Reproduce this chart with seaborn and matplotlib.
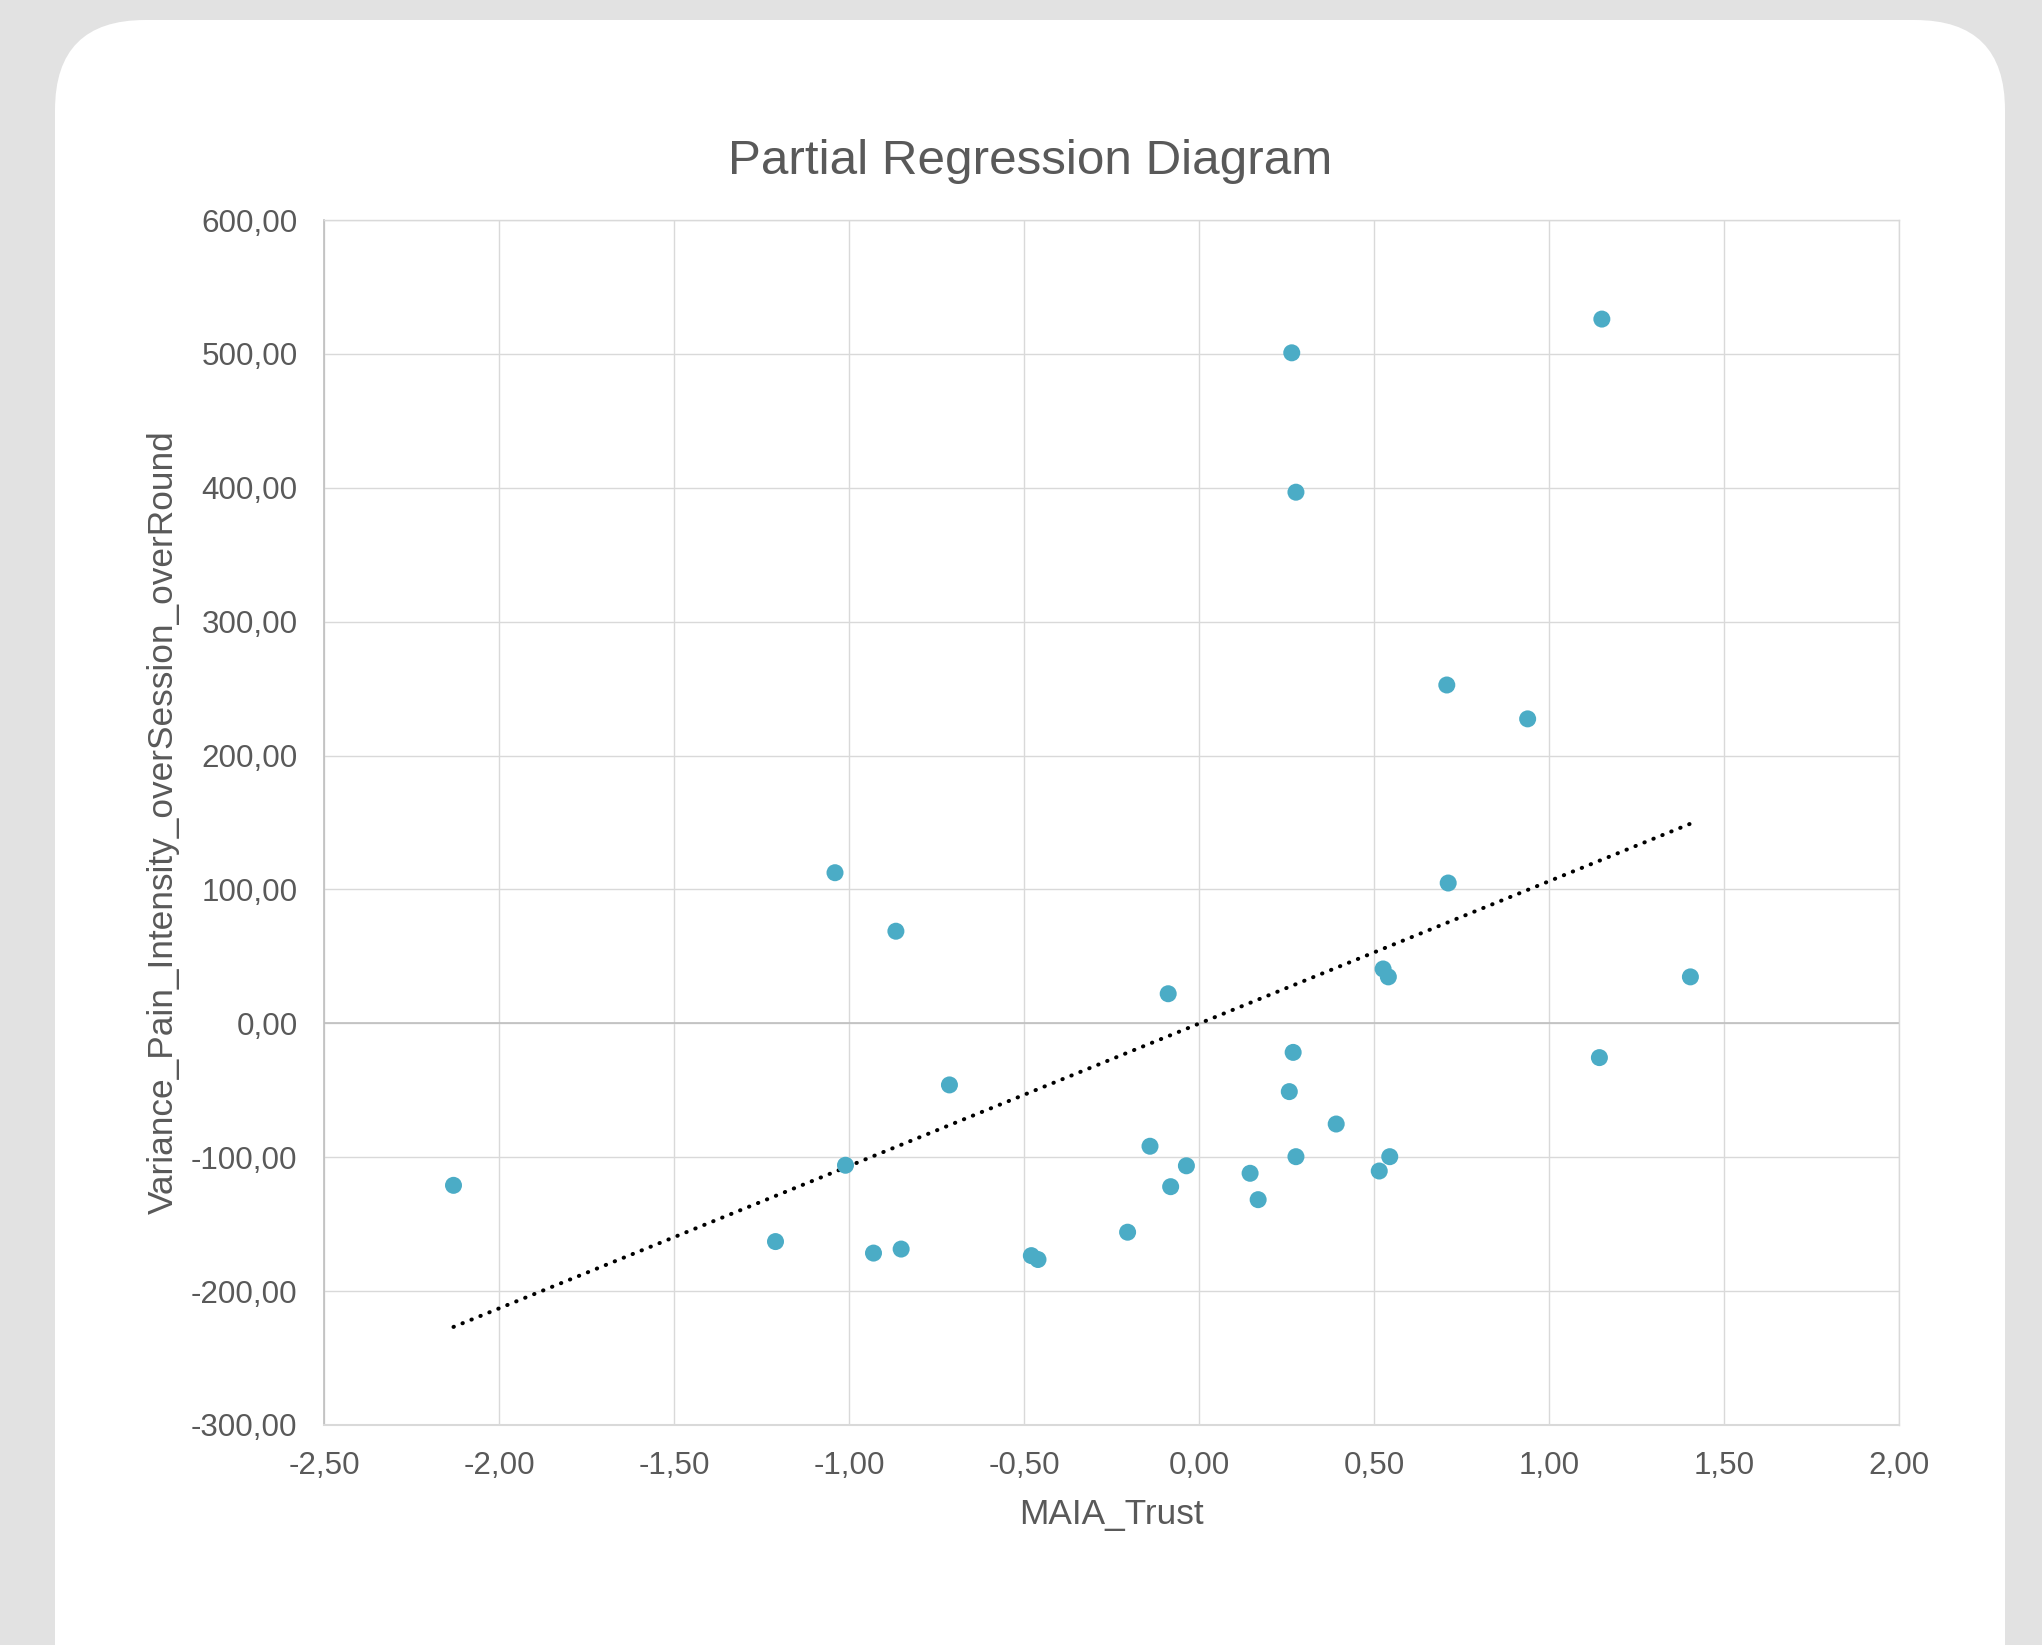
import numpy as np
import pandas as pd
import matplotlib
matplotlib.use("Agg")
import matplotlib.pyplot as plt
from matplotlib.patches import FancyBboxPatch
import seaborn as sns

# ---- data ----
maia_trust = [-2.13, -1.21, -1.04, -1.01, -0.93, -0.866, -0.851, -0.713, -0.479, -0.46,
              -0.204, -0.14, -0.088, -0.081, -0.036, 0.146, 0.169, 0.258, 0.265, 0.269,
              0.277, 0.277, 0.392, 0.515, 0.526, 0.541, 0.545, 0.708, 0.712, 0.939,
              1.144, 1.151, 1.404]
variance_pain = [-121, -163, 112.5, -106, -171.6, 68.8, -168.6, -46, -173.5, -176.4,
                 -156, -91.8, 22.1, -122, -106.4, -112, -131.7, -51, 500.8, -21.7,
                 396.7, -99.6, -75.2, -110.3, 40.6, 34.7, -99.6, 252.7, 104.8, 227.4,
                 -25.6, 526, 34.7]
x_ticks = [-2.5, -2.0, -1.5, -1.0, -0.5, 0.0, 0.5, 1.0, 1.5, 2.0]
y_ticks = [-300, -200, -100, 0, 100, 200, 300, 400, 500, 600]

title = "Partial Regression Diagram"
x_label = "MAIA_Trust"
y_label = "Variance_Pain_Intensity_overSession_overRound"

df = pd.DataFrame({x_label: maia_trust, y_label: variance_pain})

sns.set_theme(style="white")
plt.rcParams['font.family'] = ['Liberation Sans', 'DejaVu Sans']

W, H = 2042, 1645
fig = plt.figure(figsize=(W / 100, H / 100), dpi=100)
fig.patch.set_facecolor("#e2e2e2")

# background card
bg = fig.add_axes([0, 0, 1, 1], zorder=0)
bg.set_xlim(0, W)
bg.set_ylim(H, 0)
bg.axis("off")
bg.add_patch(FancyBboxPatch((55, 20), 2005 - 55, 1800, boxstyle="round,pad=0,rounding_size=90",
                            facecolor="white", edgecolor="none"))

ax = fig.add_axes([324 / W, 1 - 1425 / H, (1899 - 324) / W, (1425 - 220) / H], zorder=1)
ax.set_facecolor("none")

text_color = "#595959"
grid_color = "#d9d9d9"

sns.regplot(data=df, x=x_label, y=y_label, scatter=False, ci=None, truncate=True, ax=ax,
            line_kws=dict(color="black", lw=2.9, linestyle=(0, (0.1, 2.3)),
                          dash_capstyle="round", zorder=3))
sns.scatterplot(data=df, x=x_label, y=y_label, ax=ax, color="#4bacc6", s=150,
                edgecolor="none", linewidth=0, zorder=4)

ax.set_xlim(-2.5, 2.0)
ax.set_ylim(-300, 600)
ax.set_xticks(x_ticks)
ax.set_yticks(y_ticks)
ax.set_xticklabels([f"{v:.2f}".replace(".", ",") for v in x_ticks])
ax.set_yticklabels([f"{v:.2f}".replace(".", ",") for v in y_ticks])
ax.tick_params(axis="both", length=0, labelsize=22.6, colors=text_color, pad=19)
ax.grid(True, color=grid_color, linewidth=1.0, zorder=0)
ax.set_axisbelow(True)
ax.axhline(0, color="#bfbfbf", lw=1.2, zorder=1)

for side in ["top", "right"]:
    ax.spines[side].set_color(grid_color)
    ax.spines[side].set_linewidth(1.0)
ax.spines["left"].set_color("#bfbfbf")
ax.spines["left"].set_linewidth(1.2)
ax.spines["bottom"].set_color(grid_color)
ax.spines["bottom"].set_linewidth(1.5)

ax.set_xlabel(x_label, fontsize=25.4, color=text_color, labelpad=12)
ax.set_ylabel(y_label, fontsize=25.4, color=text_color, labelpad=8)
fig.text(1030 / W, 1 - 162 / H, title, ha="center", va="center",
         fontsize=35.6, color=text_color)

fig.savefig("out.png", dpi=100, facecolor=fig.get_facecolor())
